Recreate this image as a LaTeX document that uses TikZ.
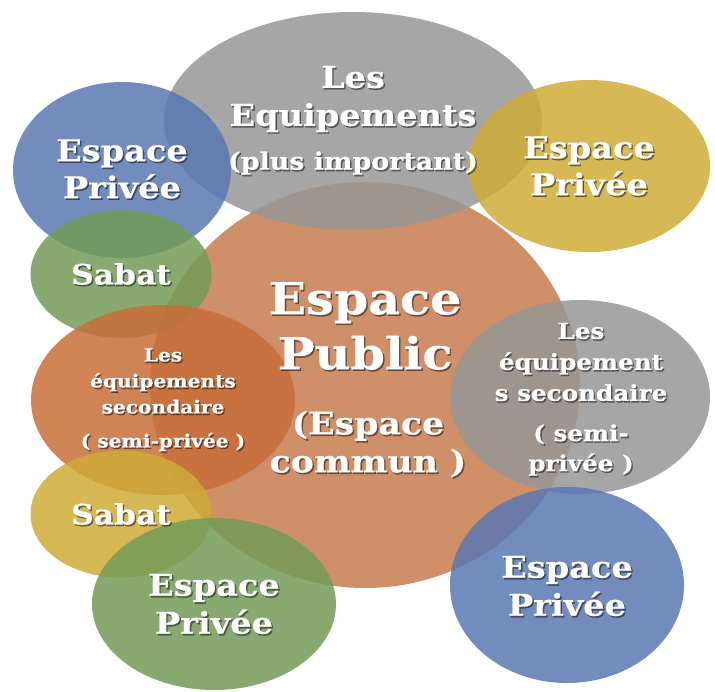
\documentclass[tikz,border=0pt]{standalone}
\usepackage{fontspec}
\setmainfont{DejaVu Serif}[BoldFeatures={FakeStretch=1.12,FakeBold=0.6}]
\usetikzlibrary{shapes.geometric}
\definecolor{grayC}{RGB}{150,150,150}
\definecolor{blueC}{RGB}{89,120,179}
\definecolor{yellowC}{RGB}{207,171,54}
\definecolor{greenC}{RGB}{115,155,88}
\definecolor{orangeC}{RGB}{197,123,79}
\definecolor{orangeD}{RGB}{200,110,55}
\tikzset{
  blob/.style={ellipse, inner sep=0pt, draw=none, fill opacity=0.85},
  txt/.style={text=white, align=center, inner sep=0pt},
  shd/.style={text=black, text opacity=0.45, align=center, inner sep=0pt, xshift=1.4pt, yshift=-1.6pt}
}
\newcommand\mylabel[4]{%
  \node[shd,font=#3] (#1s) at (#2) {#4};
  \node[txt,font=#3] (#1) at (#2) {#4};}
\begin{document}
\begin{tikzpicture}[x=1pt,y=-1pt]
\useasboundingbox (0,0) rectangle (715,691);
% ellipses
\node[blob, fill=orangeC, minimum width=430pt, minimum height=406pt] (pub) at (365,385) {};
\node[blob, fill=grayC, minimum width=378pt, minimum height=218pt] (eqA) at (353,121) {};
\node[blob, fill=blueC, minimum width=218pt, minimum height=176pt] (pvA) at (122,170) {};
\node[blob, fill=yellowC, minimum width=242pt, minimum height=172pt] (pvB) at (589,166) {};
\node[blob, fill=greenC, minimum width=181pt, minimum height=128pt] (sbA) at (121,274) {};
\node[blob, fill=orangeD, minimum width=264pt, minimum height=190pt] (eqL) at (163,400) {};
\node[blob, fill=yellowC, minimum width=181pt, minimum height=127pt] (sbB) at (121,514) {};
\node[blob, fill=greenC, minimum width=244pt, minimum height=172pt] (pvC) at (214,604) {};
\node[blob, fill=grayC, minimum width=260pt, minimum height=194pt] (eqR) at (580,397) {};
\node[blob, fill=blueC, minimum width=234pt, minimum height=196pt] (pvD) at (567,585) {};
% texts
\mylabel{tA}{353,99}{\fontsize{30}{38}\selectfont\bfseries}{Les\\Equipements}
\mylabel{tB}{353,163}{\fontsize{24}{28}\selectfont\bfseries}{(plus important)}
\mylabel{tC}{122,169}{\fontsize{30}{37}\selectfont\bfseries}{Espace\\Privée}
\mylabel{tD}{589,166}{\fontsize{30}{37}\selectfont\bfseries}{Espace\\Privée}
\mylabel{tE}{121,274}{\fontsize{28}{34}\selectfont\bfseries}{Sabat}
\mylabel{tF}{365,326}{\fontsize{44}{55}\selectfont\bfseries}{Espace\\Public}
\mylabel{tG}{368,444}{\fontsize{31}{38}\selectfont\bfseries}{(Espace\\commun )}
\mylabel{tH}{163,381}{\fontsize{18}{26}\selectfont\bfseries}{Les\\équipements\\secondaire}
\mylabel{tI}{163,442}{\fontsize{18}{26}\selectfont\bfseries}{( semi-privée )}
\mylabel{tJ}{581,362}{\fontsize{22}{31}\selectfont\bfseries}{Les\\équipement\\s secondaire}
\mylabel{tK}{581,450}{\fontsize{22}{30}\selectfont\bfseries}{( semi-\\privée )}
\mylabel{tL}{121,514}{\fontsize{28}{34}\selectfont\bfseries}{Sabat}
\mylabel{tM}{214,604}{\fontsize{30}{38}\selectfont\bfseries}{Espace\\Privée}
\mylabel{tN}{567,586}{\fontsize{30}{38}\selectfont\bfseries}{Espace\\Privée}
\end{tikzpicture}
\end{document}
